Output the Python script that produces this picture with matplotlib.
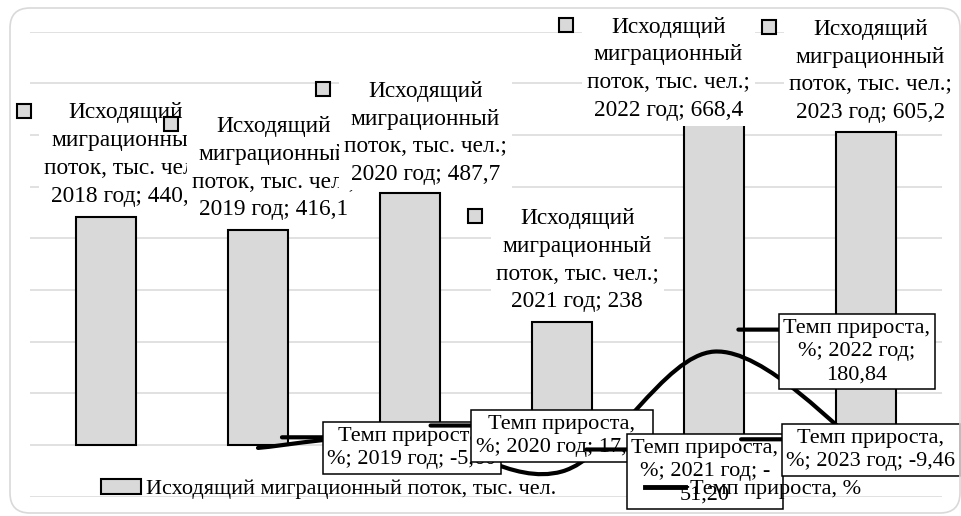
import matplotlib
matplotlib.use('Agg')
import matplotlib.pyplot as plt
from matplotlib.path import Path
from matplotlib.patches import PathPatch, FancyBboxPatch, Patch
from matplotlib.lines import Line2D
from matplotlib.transforms import ScaledTranslation

plt.rcParams['font.family'] = ['Liberation Serif', 'DejaVu Serif']

# data
years = ['2018', '2019', '2020', '2021', '2022', '2023']
outflow = [440.8, 416.1, 487.7, 238.0, 668.4, 605.2]       # тыс. чел.
growth = [None, -5.60, 17.21, -51.20, 180.84, -9.46]        # %

# label layout (category offset / y in data units), as placed in the original
bar_lbl_dx = [0.13, 0.10, 0.10, 0.10, -0.30, 0.03]
bar_lbl_y = [562, 536, 604, 358, 728, 724]
growth_lbl_dx = [None, 1.01, 1.0, 0.94, 0.94, 0.03]
growth_wrap = [False, False, False, True, True, False]

BAR_GRAY = '#d9d9d9'
GRID = '#d9d9d9'


def smooth_path(xs, ys):
    # excel-like smoothed line: cubic bezier through the points
    pts = list(zip(xs, ys))
    verts = [pts[0]]
    codes = [Path.MOVETO]
    n = len(pts)
    for k in range(n - 1):
        p0 = pts[max(k - 1, 0)]
        p1 = pts[k]
        p2 = pts[k + 1]
        p3 = pts[min(k + 2, n - 1)]
        c1 = (p1[0] + (p2[0] - p0[0]) / 6, p1[1] + (p2[1] - p0[1]) / 6)
        c2 = (p2[0] - (p3[0] - p1[0]) / 6, p2[1] - (p3[1] - p1[1]) / 6)
        verts += [c1, c2, p2]
        codes += [Path.CURVE4] * 3
    return Path(verts, codes)


def fmt(v):
    return '{:g}'.format(v).replace('.', ',')


def growth_text(year, v, wrap):
    s = '{:.2f}'.format(v).replace('.', ',')
    if not wrap:
        return 'Темп прироста,\n%; {} год; {}'.format(year, s)
    if s.startswith('-'):
        return 'Темп прироста,\n%; {} год; -\n{}'.format(year, s[1:])
    return 'Темп прироста,\n%; {} год;\n{}'.format(year, s)


fig = plt.figure(figsize=(9.62, 5.16), dpi=100)
ax = fig.add_axes([30 / 962, 1 - 496.7 / 516, 912 / 962, 465 / 516])

x = list(range(len(years)))
ax.bar(x, outflow, width=0.4, color=BAR_GRAY, edgecolor='black', linewidth=1.5, zorder=2)

gx = [i for i in x if growth[i] is not None]
gy = [growth[i] for i in gx]
ax.add_patch(PathPatch(smooth_path(gx, gy), fill=False, edgecolor='black',
                       linewidth=3, capstyle='round', zorder=3))

ax.set_xlim(-0.5, 5.5)
ax.set_ylim(-100, 800)
ax.set_yticks(range(-100, 801, 100))
ax.grid(axis='y', color=GRID, linewidth=1.1, zorder=0)
ax.set_axisbelow(True)
ax.tick_params(left=False, bottom=False, labelleft=False, labelbottom=False)
for s in ax.spines.values():
    s.set_visible(False)

# data labels of the bars (legend key square + text)
sq_shift = ax.transData + ScaledTranslation(-1.02, 0.44, fig.dpi_scale_trans)
for i, yr in enumerate(years):
    z = 4 + i * 0.05
    txt = 'Исходящий\nмиграционный\nпоток, тыс. чел.;\n{} год; {}'.format(yr, fmt(outflow[i]))
    ax.text(i + bar_lbl_dx[i], bar_lbl_y[i], txt, ha='center', va='center',
            multialignment='center', fontsize=16.8, linespacing=1.43, zorder=z,
            bbox=dict(boxstyle='square,pad=0.22', fc='white', ec='none'))
    ax.plot([i + bar_lbl_dx[i]], [bar_lbl_y[i]], marker='s', ms=9.5, ls='none',
            mfc=BAR_GRAY, mec='black', mew=1.5, transform=sq_shift, clip_on=False,
            zorder=z + 0.01)

# data labels of the growth line (boxed, with leader stubs)
for i, yr in enumerate(years):
    if growth[i] is None:
        continue
    z = 5 + i * 0.1
    txt = growth_text(yr, growth[i], growth_wrap[i])
    t = ax.text(i + growth_lbl_dx[i], growth[i], txt, ha='center', va='center',
                multialignment='center', fontsize=16, linespacing=1.32, zorder=z,
                bbox=dict(boxstyle='square,pad=0.2', fc='white', ec='black', lw=1.1))
    nlines = txt.count('\n') + 1
    ax.annotate('', xy=(0, 1 - 0.5 / nlines), xycoords=t, xytext=(-45, 0),
                textcoords='offset pixels', zorder=z - 0.01,
                arrowprops=dict(arrowstyle='-', lw=3, color='black', shrinkA=0, shrinkB=0))

handles = [Patch(facecolor=BAR_GRAY, edgecolor='black', linewidth=1.5,
                 label='Исходящий миграционный поток, тыс. чел.'),
           Line2D([], [], color='black', linewidth=3.5, label='Темп прироста, %')]
leg = ax.legend(handles=handles, loc='center', bbox_to_anchor=(481 / 962, 1 - 489 / 516),
                bbox_transform=fig.transFigure, ncol=2, frameon=False, fontsize=16,
                handlelength=1.8, handleheight=0.65, handletextpad=0.22, columnspacing=4.0)
leg.set_zorder(10)

# chart area border
fig.patches.append(FancyBboxPatch((0.10, 0.03), 9.50, 5.05,
                                  boxstyle='round,pad=0,rounding_size=0.2',
                                  transform=fig.dpi_scale_trans, fc='none',
                                  ec='#d9d9d9', lw=1.2))

fig.savefig('out.png', dpi=100, facecolor='white')
